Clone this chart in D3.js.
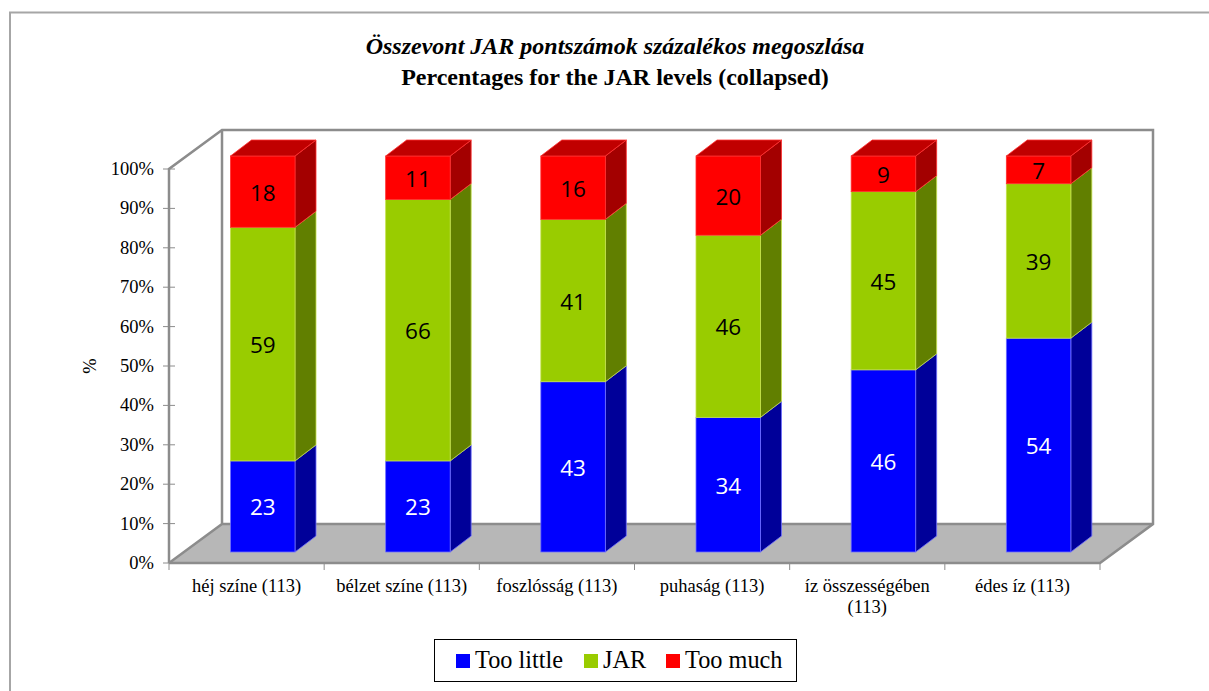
<!DOCTYPE html>
<html>
<head>
<meta charset="utf-8">
<script src="https://cdn.jsdelivr.net/npm/d3@7/dist/d3.min.js"></script>
<style>
html, body { margin: 0; padding: 0; background: #fff; }
svg { display: block; }
text { font-family: "Liberation Serif", serif; fill: #000; }
.val { font-family: "Open Sans", "Noto Sans", sans-serif; font-size: 22.5px; }
</style>
</head>
<body>
<svg id="chart" width="1209" height="691"></svg>
<script>
// Percentages per attribute, stacked bottom to top
const categories = [["héj színe (113)"], ["bélzet színe (113)"], ["foszlósság (113)"], ["puhaság (113)"], ["íz összességében", "(113)"], ["édes íz (113)"]];
const tooLittle = [23, 23, 43, 34, 46, 54];
const jar = [59, 66, 41, 46, 45, 39];
const tooMuch = [18, 11, 16, 20, 9, 7];
const seriesNames = ["Too little", "JAR", "Too much"];
const yTicks = [0, 10, 20, 30, 40, 50, 60, 70, 80, 90, 100];

// Front, side and top shades for each series, plus edge highlight and label colour
const shades = [
  { front: "#0000ff", side: "#000099", top: "#0000c0", edge: "#6f6fff", label: "#fff" },
  { front: "#99cc00", side: "#617f00", top: "#7a9f00", edge: "#c4e04d", label: "#000" },
  { front: "#ff0000", side: "#a30000", top: "#c00000", edge: "#ff3030", label: "#000" }
];

const svg = d3.select("#chart");
const stacked = [tooLittle, jar, tooMuch];
const indices = categories.map((_, i) => i);

// Oblique projection: the floor recedes up and to the right
const wall = { dx: 53, dy: -39 };
const barDepth = { dx: 21, dy: -16 };
const x = d3.scaleBand().domain(indices).range([169, 1100]);
const yAxis = d3.scaleLinear().domain([0, 100]).range([563, 169]);
const yBar = d3.scaleLinear().domain([0, 100]).range([552, 156]);
const barWidth = 64.5;
const barX = i => x(i) + 61.5;

const poly = pts => pts.map(p => p.join(",")).join(" ");
const grey = "#8c8c8c";

// Outer chart border, open on the right and at the bottom
svg.append("path")
  .attr("d", "M10,691V12.5H1209")
  .attr("fill", "none").attr("stroke", "#a6a6a6").attr("stroke-width", 2);

// Floor
const x0 = x.range()[0], x1 = x.range()[1];
const yz = yAxis(0), yt = yAxis(100);
svg.append("polygon")
  .attr("points", poly([[x0, yz], [x0 + wall.dx, yz + wall.dy], [x1 + wall.dx, yz + wall.dy], [x1, yz]]))
  .attr("fill", "#b7b7b7");

// Back and side walls
svg.append("path")
  .attr("d", `M${x0},${yz}L${x0},${yt}L${x0 + wall.dx},${yt + wall.dy}L${x1 + wall.dx},${yt + wall.dy}L${x1 + wall.dx},${yz + wall.dy}L${x1},${yz}L${x0},${yz}`)
  .attr("fill", "none").attr("stroke", grey).attr("stroke-width", 2.5);
svg.append("path")
  .attr("d", `M${x0},${yz}L${x0 + wall.dx},${yz + wall.dy}L${x1 + wall.dx},${yz + wall.dy}M${x0 + wall.dx},${yz + wall.dy}L${x0 + wall.dx},${yt + wall.dy}`)
  .attr("fill", "none").attr("stroke", grey).attr("stroke-width", 2.5);

// Value axis ticks and labels
const yG = svg.append("g");
yTicks.forEach(t => {
  yG.append("line").attr("x1", x0 - 6).attr("x2", x0 + 6)
    .attr("y1", yAxis(t)).attr("y2", yAxis(t))
    .attr("stroke", grey).attr("stroke-width", 1);
  yG.append("text").attr("x", x0 - 15).attr("y", yAxis(t) + 6)
    .attr("text-anchor", "end").attr("font-size", 18.5).text(t + "%");
});
svg.append("text")
  .attr("transform", "translate(96,366) rotate(-90)")
  .attr("text-anchor", "middle").attr("font-size", 18.5).text("%");

// Category axis ticks and labels
[...indices, indices.length].forEach(i => {
  const px = i < indices.length ? x(i) : x1;
  svg.append("line").attr("x1", px).attr("x2", px).attr("y1", yz).attr("y2", yz + 7)
    .attr("stroke", grey).attr("stroke-width", 1);
});
indices.forEach(i => {
  const t = svg.append("text").attr("text-anchor", "middle").attr("font-size", 18.5);
  categories[i].forEach((line, k) => {
    t.append("tspan").attr("x", x(i) + x.step() / 2).attr("y", 592 + k * 21).text(line);
  });
});

// Stacked bars: each segment has a front face, a side face and, on top, a lid
indices.forEach(i => {
  let base = 0;
  stacked.forEach((vals, s) => {
    const v = vals[i], c = shades[s];
    const bx = barX(i), yb = yBar(base), yh = yBar(base + v);
    const g = svg.append("g");
    g.append("polygon")
      .attr("points", poly([[bx + barWidth, yb], [bx + barWidth + barDepth.dx, yb + barDepth.dy], [bx + barWidth + barDepth.dx, yh + barDepth.dy], [bx + barWidth, yh]]))
      .attr("fill", c.side).attr("stroke", c.edge).attr("stroke-width", 0.8);
    g.append("rect").attr("x", bx).attr("y", yh).attr("width", barWidth).attr("height", yb - yh)
      .attr("fill", c.front).attr("stroke", c.edge).attr("stroke-width", 0.8);
    if (s === stacked.length - 1) {
      g.append("polygon")
        .attr("points", poly([[bx, yh], [bx + barDepth.dx, yh + barDepth.dy], [bx + barWidth + barDepth.dx, yh + barDepth.dy], [bx + barWidth, yh]]))
        .attr("fill", c.top).attr("stroke", c.edge).attr("stroke-width", 0.8);
    }
    base += v;
  });
});

// Value labels drawn after all bars so none is covered
indices.forEach(i => {
  let base = 0;
  stacked.forEach((vals, s) => {
    const v = vals[i];
    svg.append("text").attr("class", "val")
      .attr("x", barX(i) + barWidth / 2)
      .attr("y", yBar(base + v / 2) + 9)
      .attr("text-anchor", "middle")
      .style("fill", shades[s].label)
      .text(v);
    base += v;
  });
});

// Title
svg.append("text").attr("x", 615).attr("y", 54).attr("text-anchor", "middle")
  .attr("font-size", 24).attr("font-weight", "bold").attr("font-style", "italic")
  .text("Összevont JAR pontszámok százalékos megoszlása");
svg.append("text").attr("x", 615).attr("y", 85).attr("text-anchor", "middle")
  .attr("font-size", 24).attr("font-weight", "bold")
  .text("Percentages for the JAR levels (collapsed)");

// Legend
svg.append("rect").attr("x", 434.5).attr("y", 639.5).attr("width", 362).attr("height", 42)
  .attr("fill", "#fff").attr("stroke", "#000").attr("stroke-width", 1);
const legendX = [456, 584, 666];
seriesNames.forEach((name, s) => {
  svg.append("rect").attr("x", legendX[s]).attr("y", 654).attr("width", 14).attr("height", 14)
    .attr("fill", shades[s].front);
  svg.append("text").attr("x", legendX[s] + 19).attr("y", 668)
    .attr("font-size", 24.3).text(name);
});
</script>
</body>
</html>
